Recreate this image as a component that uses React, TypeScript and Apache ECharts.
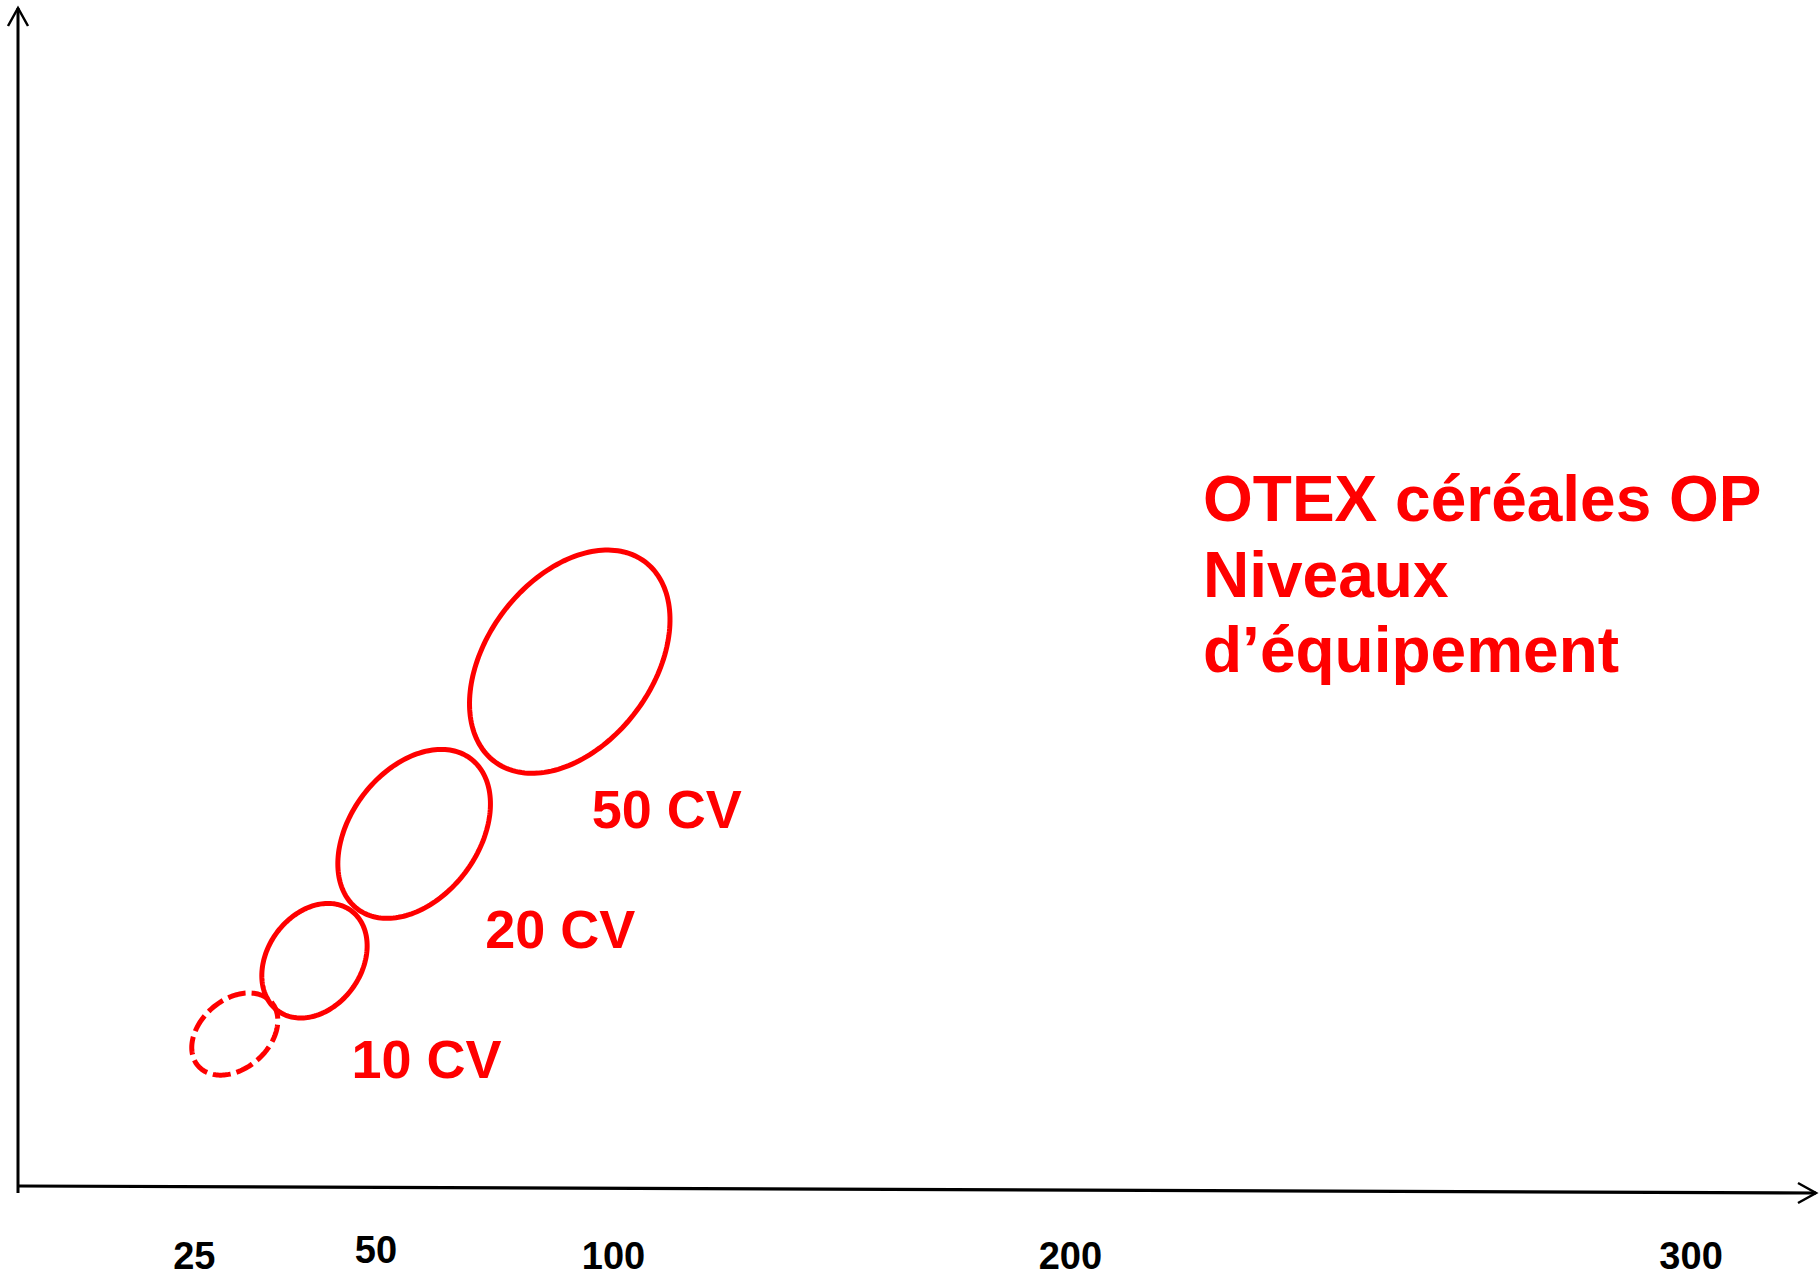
import React, { useEffect, useRef } from "react";
import * as echarts from "echarts";

// ---- data ----
// x-axis tick labels (ha) and where they sit along the (schematic) axis, in axis units 0-100
const tickLabels = ["25", "50", "100", "200", "300"];
const tickPositions = [9.8, 19.9, 33.1, 58.5, 93.0];

// equipment levels, drawn as tilted ellipses (axis units 0-100)
const levelNames = ["", "10 CV", "20 CV", "50 CV"];
const centerX = [12.05, 16.48, 22.02, 30.67];
const centerY = [13.12, 19.33, 30.07, 44.65];
const semiMajor = [2.7, 3.45, 5.23, 6.95]; // in x-axis units
const semiMinor = [1.91, 2.61, 3.56, 4.61]; // in x-axis units
const tiltDeg = [41, 54, 53, 53];

const titleLines = ["OTEX céréales OP", "Niveaux", "d\u2019équipement"];

// ---- layout / style ----
const RED = "#ff0000";
const FONT = '"Liberation Sans", Arial, Helvetica, sans-serif';
const dashedLevel = [true, false, false, false];
const raisedTick = [false, true, false, false, false];
const labelOffsets: [number, number][] = [
  [0, 0],
  [37, 98],
  [71, 95],
  [22, 147],
];

export default function App() {
  const ref = useRef<HTMLDivElement>(null);

  useEffect(() => {
    if (!ref.current) return;
    const chart = echarts.init(ref.current, null, { renderer: "svg" });

    const ellipseData = centerX.map((cx, i) => [
      cx,
      centerY[i],
      semiMajor[i],
      semiMinor[i],
      tiltDeg[i],
      i,
    ]);

    const option: any = {
      animation: false,
      backgroundColor: "#ffffff",
      grid: { left: 18, right: 3, top: 8, bottom: 88 },
      xAxis: {
        type: "value",
        min: 0,
        max: 100,
        axisLine: { show: false },
        axisTick: { show: false },
        splitLine: { show: false },
        axisLabel: {
          customValues: tickPositions,
          margin: 86,
          verticalAlign: "bottom",
          color: "#000",
          fontSize: 38,
          fontWeight: "bold",
          fontFamily: FONT,
          formatter: (v: number) => {
            const k = tickPositions.findIndex((p) => Math.abs(p - v) < 1e-6);
            if (k < 0) return "";
            return raisedTick[k] ? `{hi|${tickLabels[k]}}` : `{n|${tickLabels[k]}}`;
          },
          rich: {
            n: {
              color: "#000",
              fontSize: 38,
              fontWeight: "bold",
              fontFamily: FONT,
            },
            hi: {
              color: "#000",
              fontSize: 38,
              fontWeight: "bold",
              fontFamily: FONT,
              padding: [0, 0, 6, 0],
            },
          },
        },
      },
      yAxis: {
        type: "value",
        min: 0,
        max: 100,
        show: false,
      },
      series: [
        {
          type: "custom",
          coordinateSystem: "cartesian2d",
          clip: false,
          data: ellipseData,
          renderItem: (params: any, api: any) => {
            const c = api.coord([api.value(0), api.value(1)]);
            const a = api.size([api.value(2), 0])[0];
            const b = api.size([api.value(3), 0])[0];
            const th = (api.value(4) * Math.PI) / 180;
            const idx = api.value(5);
            const pts: number[][] = [];
            const N = 180;
            for (let k = 0; k < N; k++) {
              const t = (k / N) * Math.PI * 2;
              const ca = a * Math.cos(t);
              const sb = b * Math.sin(t);
              pts.push([
                c[0] + ca * Math.cos(th) + sb * Math.sin(th),
                c[1] - ca * Math.sin(th) + sb * Math.cos(th),
              ]);
            }
            const children: any[] = [
              {
                type: "polygon",
                shape: { points: pts },
                style: {
                  fill: "none",
                  stroke: RED,
                  lineWidth: 5,
                  lineDash: dashedLevel[idx] ? [18, 6] : null,
                },
              },
            ];
            const name = levelNames[idx];
            if (name) {
              children.push({
                type: "text",
                x: c[0] + labelOffsets[idx][0],
                y: c[1] + labelOffsets[idx][1],
                style: {
                  text: name,
                  fill: RED,
                  fontSize: 54,
                  fontWeight: "bold",
                  fontFamily: FONT,
                  align: "left",
                  verticalAlign: "middle",
                },
              });
            }
            return { type: "group", children };
          },
        },
      ],
      graphic: [
        {
          type: "line",
          shape: { x1: 18, y1: 8, x2: 18, y2: 1193 },
          style: { stroke: "#000", lineWidth: 3 },
        },
        {
          type: "polyline",
          shape: { points: [[8, 26], [18, 8], [28, 26]] },
          style: { stroke: "#000", lineWidth: 2.5, fill: "none" },
        },
        {
          type: "line",
          shape: { x1: 18, y1: 1186, x2: 1816, y2: 1193 },
          style: { stroke: "#000", lineWidth: 3.2 },
        },
        {
          type: "polyline",
          shape: { points: [[1798, 1183], [1816, 1193], [1798, 1203]] },
          style: { stroke: "#000", lineWidth: 2.5, fill: "none" },
        },
        ...titleLines.map((t, i) => ({
          type: "text",
          x: 1203,
          y: 499 + i * 75.5,
          style: {
            text: t,
            fill: RED,
            fontSize: 64,
            fontWeight: "bold",
            fontFamily: FONT,
            align: "left",
            verticalAlign: "middle",
          },
        })),
      ],
    };

    chart.setOption(option);
    return () => chart.dispose();
  }, []);

  return (
    <div
      ref={ref}
      style={{ position: "fixed", left: 0, top: 0, width: 1820, height: 1277 }}
    />
  );
}
